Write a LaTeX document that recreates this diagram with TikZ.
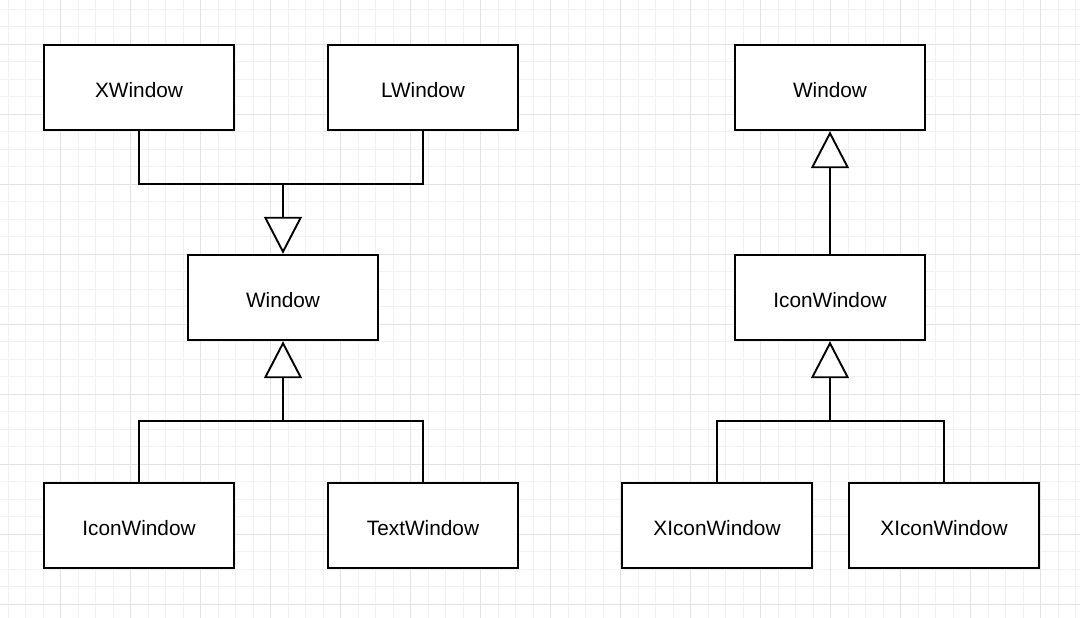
\documentclass[tikz,border=0pt]{standalone}
\usepackage{fontspec}
\setmainfont{Liberation Sans}
\usetikzlibrary{arrows.meta}
\definecolor{gridminor}{HTML}{F1F1F1}
\definecolor{gridmajor}{HTML}{E2E2E2}

\begin{document}
\begin{tikzpicture}[x=1pt,y=-1pt,
    cls/.style={draw,line width=1.9pt,fill=white,minimum width=190.5pt,minimum height=85.5pt,inner sep=0pt,text height=22pt,text depth=2pt,font=\fontsize{20.8}{25}\selectfont},
    link/.style={line width=1.9pt},
    inherit/.style={line width=1.9pt,-{Triangle[open,fill=white,length=37pt,width=38pt]}}]
    \useasboundingbox (0,0) rectangle (1080,618);
    \fill[white] (0,0) rectangle (1080,618);
    \foreach \i in {0,...,61} \draw[gridminor,line width=0.8pt] ({8.2+17.5*\i},0)-- ++(0,618);
    \foreach \i in {0,...,34} \draw[gridminor,line width=0.8pt] (0,{9+17.5*\i})-- ++(1080,0);
    \foreach \i in {0,...,14} \draw[gridmajor,line width=0.8pt] ({60.7+70*\i},0)-- ++(0,618);
    \foreach \i in {0,...,8} \draw[gridmajor,line width=0.8pt] (0,{44+70*\i})-- ++(1080,0);

    \node[cls] (xwin) at (139,87.5) {XWindow};
    \node[cls] (lwin) at (423,87.5) {LWindow};
    \node[cls] (win) at (283,297.5) {Window};
    \node[cls] (iconwin) at (139,525.5) {IconWindow};
    \node[cls] (textwin) at (423,525.5) {TextWindow};
    \coordinate (jtop) at (283,184);
    \coordinate (jbot) at (283,421);
    \draw[link] (xwin.south) |- (jtop);
    \draw[link] (lwin.south) |- (jtop);
    \draw[inherit] (jtop)--(win.north);
    \draw[link] (iconwin.north) |- (jbot);
    \draw[link] (textwin.north) |- (jbot);
    \draw[inherit] (jbot)--(win.south);

    \node[cls] (rwin) at (830,87.5) {Window};
    \node[cls] (riconwin) at (830,297.5) {IconWindow};
    \node[cls] (xiconA) at (717,525.5) {XIconWindow};
    \node[cls] (xiconB) at (944,525.5) {XIconWindow};
    \coordinate (rjbot) at (830,421);
    \draw[inherit] (riconwin.north)--(rwin.south);
    \draw[link] (xiconA.north) |- (rjbot);
    \draw[link] (xiconB.north) |- (rjbot);
    \draw[inherit] (rjbot)--(riconwin.south);
  \end{tikzpicture}
\end{document}
